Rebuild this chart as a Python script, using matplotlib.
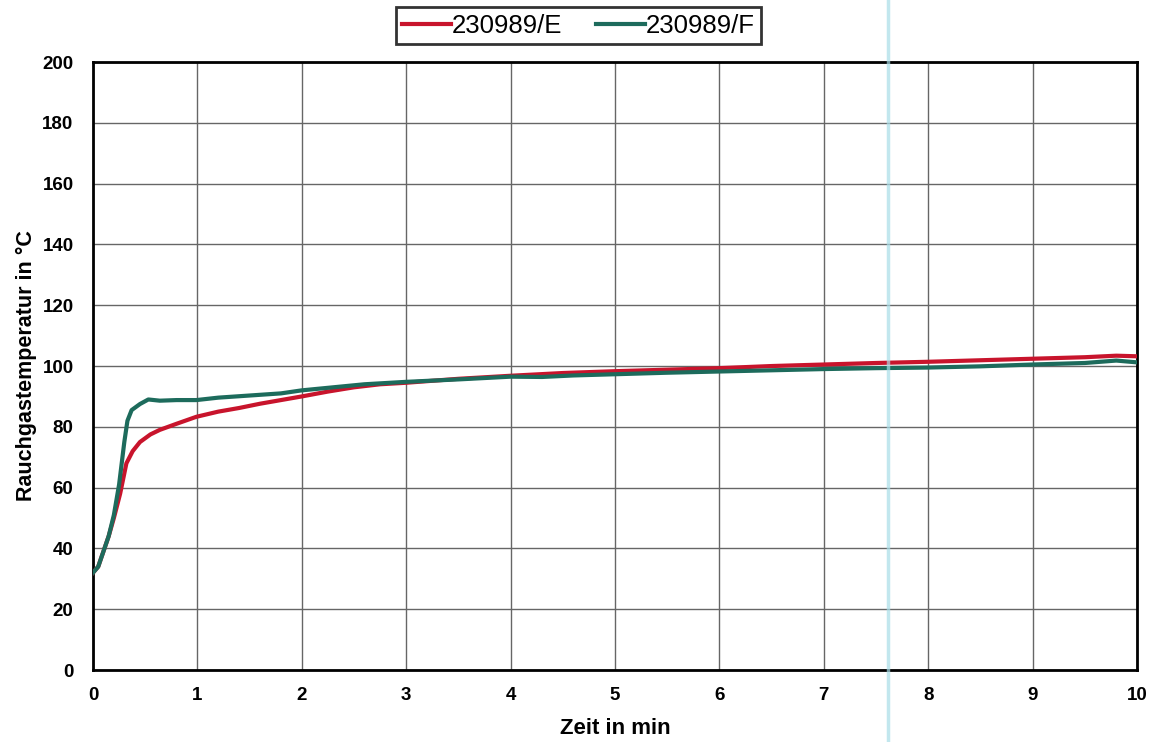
import matplotlib
matplotlib.use("Agg")
from matplotlib import pyplot as plt
from matplotlib.lines import Line2D

plt.rcParams['font.family'] = ['Liberation Sans', 'DejaVu Sans']

# Zeit in min / Rauchgastemperatur in °C
zeit_E = [0.0, 0.05, 0.1, 0.15, 0.2, 0.26, 0.32, 0.38, 0.45, 0.55, 0.64, 0.8, 0.99, 1.2, 1.4, 1.6, 1.8,
          2.0, 2.25, 2.5, 2.75, 3.0, 3.5, 4.0, 4.5, 5.0, 5.5, 6.0, 6.5, 7.0, 7.5, 8.0, 8.5, 9.0, 9.5, 9.8, 10.0]
temp_E = [32, 34, 39, 44, 50, 58, 68, 72, 75, 77.5, 79, 81, 83.3, 85, 86.2, 87.6, 88.8,
          90, 91.6, 93, 94, 94.5, 95.8, 96.8, 97.7, 98.3, 98.8, 99.3, 100, 100.5, 101, 101.4, 101.9, 102.4, 102.9, 103.4, 103.2]

zeit_F = [0.0, 0.05, 0.1, 0.15, 0.2, 0.25, 0.3, 0.33, 0.37, 0.45, 0.53, 0.64, 0.8, 0.99, 1.2, 1.5, 1.8,
          2.0, 2.3, 2.6, 3.0, 3.5, 4.0, 4.3, 4.6, 5.0, 5.5, 6.0, 6.5, 7.0, 7.5, 8.0, 8.5, 9.0, 9.5, 9.8, 10.0]
temp_F = [32, 34, 39, 44, 51, 61, 75, 82, 85.5, 87.5, 89, 88.6, 88.8, 88.8, 89.6, 90.3, 91,
          92, 93, 94, 94.8, 95.6, 96.5, 96.4, 96.9, 97.3, 97.8, 98.2, 98.6, 99, 99.3, 99.5, 99.9, 100.5, 101, 101.8, 101.2]

x_ticks = list(range(0, 11))
y_ticks = list(range(0, 201, 20))

fig = plt.figure(figsize=(11.58, 7.42), dpi=100)
ax = fig.add_axes([0.0803, 0.097, 0.9017, 0.8194])

ax.plot(zeit_E, temp_E, color='#c8142c', linewidth=3, label='230989/E', zorder=3)
ax.plot(zeit_F, temp_F, color='#1d6b5c', linewidth=3, label='230989/F', zorder=4)

ax.set_xlim(0, 10)
ax.set_ylim(0, 200)
ax.set_xticks(x_ticks)
ax.set_yticks(y_ticks)
ax.grid(True, color='#666666', linewidth=1.0)
ax.set_axisbelow(True)
for sp in ax.spines.values():
    sp.set_linewidth(2)
    sp.set_color('black')
ax.tick_params(axis='both', length=0, labelsize=13.5)
ax.tick_params(axis='x', pad=12)
ax.tick_params(axis='y', pad=14)
for lbl in ax.get_xticklabels() + ax.get_yticklabels():
    lbl.set_fontweight('bold')

ax.set_xlabel('Zeit in min', fontsize=16, fontweight='bold', labelpad=10)
ax.set_ylabel('Rauchgastemperatur in °C', fontsize=15.5, fontweight='bold', labelpad=4)

leg = ax.legend(loc='lower center', bbox_to_anchor=(0.465, 1.008), ncol=2, fontsize=18.5,
                frameon=True, fancybox=False, handlelength=1.9, handletextpad=0.05,
                columnspacing=1.3, borderpad=0.25)
leg.get_frame().set_edgecolor('black')
leg.get_frame().set_linewidth(2)

# hellblaue Scan-Linie
fig.add_artist(Line2D([888 / 1158, 888 / 1158], [0, 1], color='#a8dde8', linewidth=2.5,
                      alpha=0.7, zorder=10))

fig.savefig('out.png', dpi=100)
